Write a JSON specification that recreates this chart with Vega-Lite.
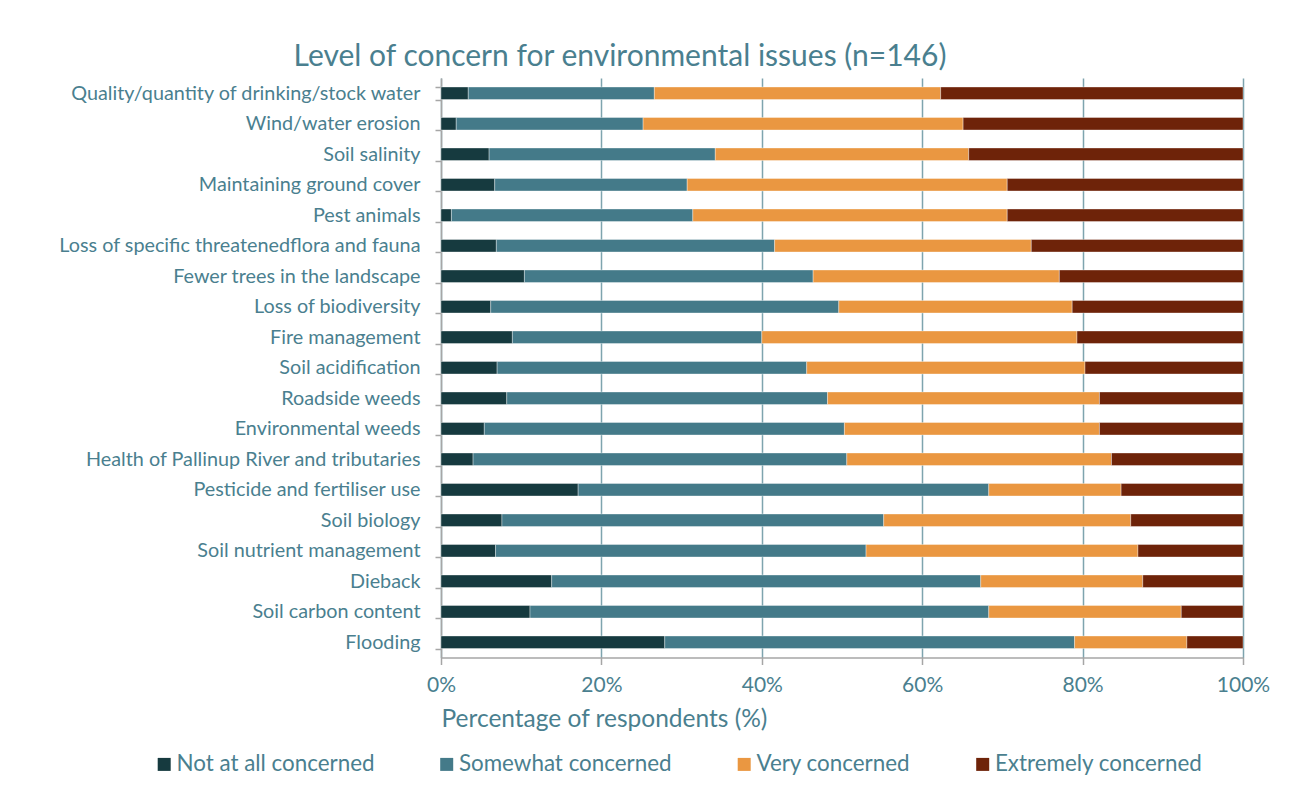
{
  "$schema": "https://vega.github.io/schema/vega-lite/v6.json",
  "autosize": {"type": "none"},
  "padding": {"left": 441, "top": 78, "right": 53, "bottom": 135},
  "width": 802,
  "height": 579.5,
  "background": "#ffffff",
  "title": {
    "text": "Level of concern for environmental issues (n=146)",
    "anchor": "middle",
    "frame": "group",
    "dx": -222,
    "offset": -4,
    "font": "Lato",
    "fontSize": 30,
    "fontWeight": "normal",
    "color": "#4a7f8f"
  },
  "data": {
    "values": [
      {"issue": "Quality/quantity of drinking/stock water", "Not at all concerned": 3.4, "Somewhat concerned": 23.2, "Very concerned": 35.7, "Extremely concerned": 37.7},
      {"issue": "Wind/water erosion", "Not at all concerned": 1.9, "Somewhat concerned": 23.3, "Very concerned": 39.9, "Extremely concerned": 34.9},
      {"issue": "Soil salinity", "Not at all concerned": 6.0, "Somewhat concerned": 28.2, "Very concerned": 31.6, "Extremely concerned": 34.2},
      {"issue": "Maintaining ground cover", "Not at all concerned": 6.7, "Somewhat concerned": 24.0, "Very concerned": 39.9, "Extremely concerned": 29.4},
      {"issue": "Pest animals ", "Not at all concerned": 1.3, "Somewhat concerned": 30.1, "Very concerned": 39.2, "Extremely concerned": 29.4},
      {"issue": "Loss of specific threatenedflora and fauna", "Not at all concerned": 6.9, "Somewhat concerned": 34.7, "Very concerned": 32.0, "Extremely concerned": 26.4},
      {"issue": "Fewer trees in the landscape", "Not at all concerned": 10.4, "Somewhat concerned": 36.0, "Very concerned": 30.7, "Extremely concerned": 22.9},
      {"issue": "Loss of biodiversity", "Not at all concerned": 6.2, "Somewhat concerned": 43.4, "Very concerned": 29.1, "Extremely concerned": 21.3},
      {"issue": "Fire management", "Not at all concerned": 8.9, "Somewhat concerned": 31.1, "Very concerned": 39.3, "Extremely concerned": 20.7},
      {"issue": "Soil acidification", "Not at all concerned": 7.0, "Somewhat concerned": 38.6, "Very concerned": 34.7, "Extremely concerned": 19.7},
      {"issue": "Roadside weeds", "Not at all concerned": 8.2, "Somewhat concerned": 40.0, "Very concerned": 33.9, "Extremely concerned": 17.9},
      {"issue": "Environmental weeds", "Not at all concerned": 5.4, "Somewhat concerned": 44.9, "Very concerned": 31.8, "Extremely concerned": 17.9},
      {"issue": "Health of Pallinup River and tributaries ", "Not at all concerned": 4.0, "Somewhat concerned": 46.6, "Very concerned": 33.0, "Extremely concerned": 16.4},
      {"issue": "Pesticide and fertiliser use", "Not at all concerned": 17.1, "Somewhat concerned": 51.2, "Very concerned": 16.5, "Extremely concerned": 15.2},
      {"issue": "Soil biology", "Not at all concerned": 7.6, "Somewhat concerned": 47.6, "Very concerned": 30.8, "Extremely concerned": 14.0},
      {"issue": "Soil nutrient management", "Not at all concerned": 6.8, "Somewhat concerned": 46.2, "Very concerned": 33.9, "Extremely concerned": 13.1},
      {"issue": "Dieback", "Not at all concerned": 13.8, "Somewhat concerned": 53.5, "Very concerned": 20.2, "Extremely concerned": 12.5},
      {"issue": "Soil carbon content", "Not at all concerned": 11.1, "Somewhat concerned": 57.2, "Very concerned": 24.0, "Extremely concerned": 7.7},
      {"issue": "Flooding", "Not at all concerned": 27.9, "Somewhat concerned": 51.1, "Very concerned": 14.0, "Extremely concerned": 7.0}
    ]
  },
  "transform": [
    {"fold": ["Not at all concerned", "Somewhat concerned", "Very concerned", "Extremely concerned"], "as": ["level", "pct"]},
    {"calculate": "indexof(['Not at all concerned', 'Somewhat concerned', 'Very concerned', 'Extremely concerned'], datum.level)", "as": "levelRank"}
  ],
  "mark": {"type": "bar", "stroke": "#ffffff", "strokeWidth": 0.6, "strokeOpacity": 0.6},
  "encoding": {
    "y": {
      "field": "issue",
      "type": "nominal",
      "sort": null,
      "scale": {"paddingInner": 0.59, "paddingOuter": 0.295},
      "axis": {
        "title": null,
        "tickBand": "extent",
        "tickSize": 6,
        "tickColor": "#a6a6a6",
        "tickWidth": 1.5,
        "domainColor": "#a6a6a6",
        "domainWidth": 1.5,
        "labelFont": "Lato",
        "labelFontSize": 19.8,
        "labelColor": "#4a7f8f",
        "labelPadding": 15,
        "labelLimit": 440,
        "grid": false
      }
    },
    "x": {
      "field": "pct",
      "type": "quantitative",
      "stack": "zero",
      "scale": {"domain": [0, 100], "nice": false},
      "axis": {
        "title": "Percentage of respondents (%)",
        "titleFont": "Lato",
        "titleFontSize": 24.5,
        "titleFontWeight": "normal",
        "titleColor": "#4a7f8f",
        "titleAnchor": "start",
        "titleAlign": "left",
        "titlePadding": 12,
        "values": [0, 20, 40, 60, 80, 100],
        "labelExpr": "datum.value + '%'",
        "labelFont": "Lato",
        "labelFontSize": 21,
        "labelColor": "#4a7f8f",
        "labelPadding": 10,
        "labelFlush": false,
        "tickSize": 7,
        "tickColor": "#a6a6a6",
        "tickWidth": 1.5,
        "domainColor": "#a6a6a6",
        "domainWidth": 1.5,
        "grid": true,
        "gridColor": "#7ea4ae",
        "gridWidth": 1.5
      }
    },
    "order": {"field": "levelRank", "type": "quantitative", "sort": "ascending"},
    "color": {
      "field": "level",
      "type": "nominal",
      "sort": ["Not at all concerned", "Somewhat concerned", "Very concerned", "Extremely concerned"],
      "scale": {
        "domain": ["Not at all concerned", "Somewhat concerned", "Very concerned", "Extremely concerned"],
        "range": ["#163a3f", "#447a89", "#ea9741", "#6e2309"]
      },
      "legend": {
        "title": null,
        "orient": "none",
        "legendX": -288,
        "legendY": 675,
        "direction": "horizontal",
        "columns": 4,
        "columnPadding": 60.5,
        "symbolType": "square",
        "symbolSize": 169,
        "symbolStrokeWidth": 0,
        "labelFont": "Lato",
        "labelFontSize": 22.4,
        "labelColor": "#4a7f8f",
        "labelOffset": 1,
        "labelLimit": 400
      }
    }
  },
  "config": {"view": {"stroke": null}}
}
